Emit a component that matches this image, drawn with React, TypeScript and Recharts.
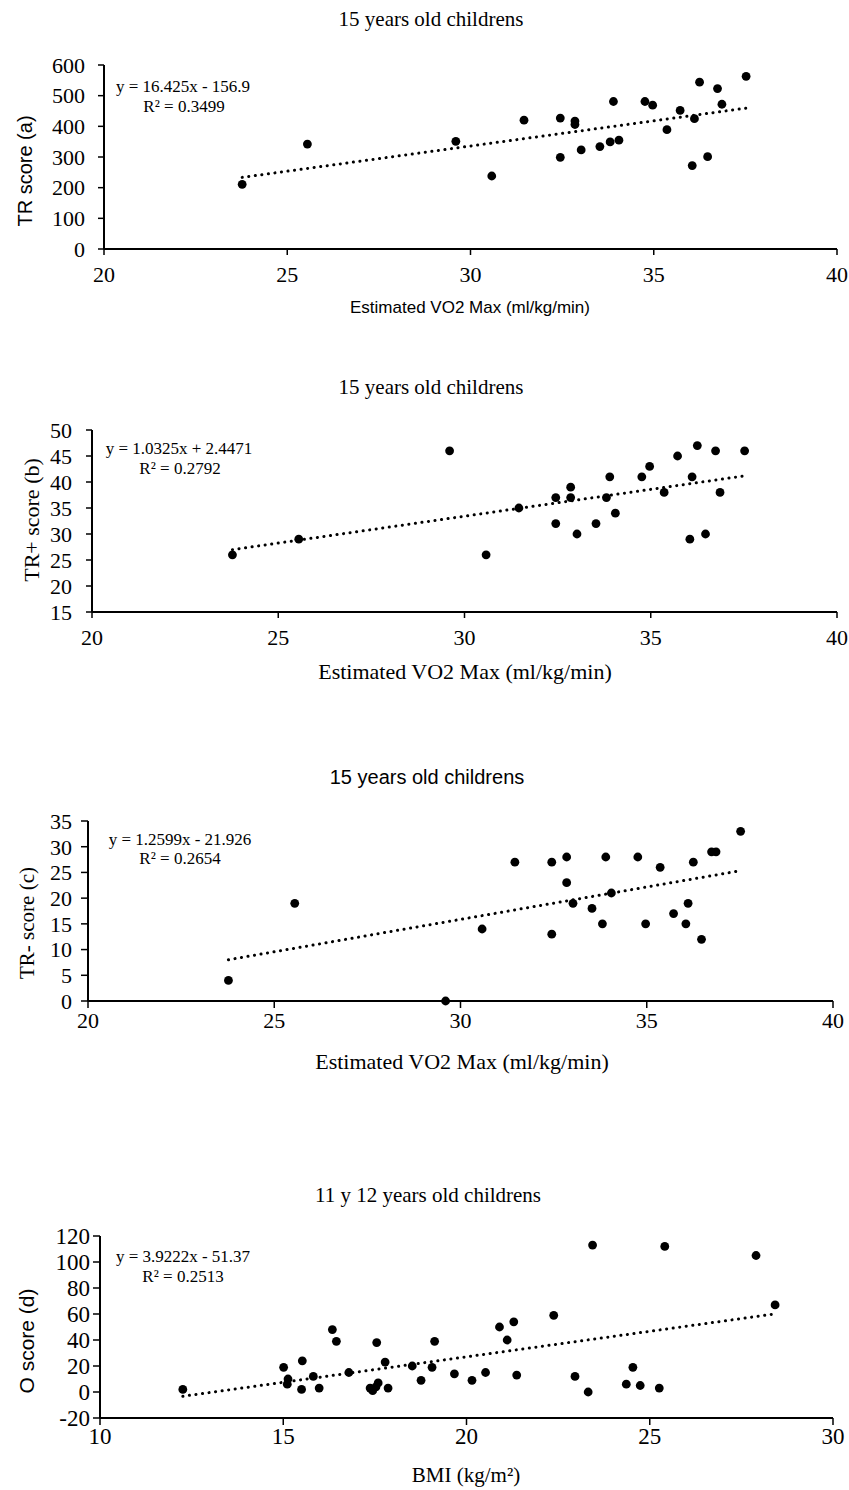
import React from "react";
import { ScatterChart, Scatter, XAxis, YAxis, ReferenceLine } from "recharts";

const serif = '"Liberation Serif", "Times New Roman", serif';
const sans = '"Liberation Sans", Arial, sans-serif';

// 15 years old: estimated VO2 max, shared by panels a, b, c
const vo2 = [
    23.77, 25.55, 29.6, 30.58, 31.46, 32.45, 32.45, 32.85, 32.85, 33.02, 33.53, 33.81, 33.9,
    34.05, 34.76, 34.97, 35.36, 35.72, 36.05, 36.11, 36.25, 36.47, 36.74, 36.86, 37.52,
];
const trScore = [
    211, 342, 351, 238, 420, 427, 299, 417, 406, 323, 334, 349, 481,
    355, 481, 469, 389, 452, 272, 425, 544, 301, 523, 472, 563,
];
const trPlus = [
    26, 29, 46, 26, 35, 37, 32, 39, 37, 30, 32, 37, 41,
    34, 41, 43, 38, 45, 29, 41, 47, 30, 46, 38, 46,
];
const trMinus = [
    4, 19, 0, 14, 27, 27, 13, 28, 23, 19, 18, 15, 28,
    21, 28, 15, 26, 17, 15, 19, 27, 12, 29, 29, 33,
];

// 11 y 12 years old: BMI vs O score
const bmi = [
    12.26, 15.01, 15.13, 15.11, 15.52, 15.5, 15.82, 15.98, 16.34, 16.45, 16.79, 17.37, 17.44,
    17.55, 17.59, 17.53, 17.78, 17.86, 18.52, 18.76, 19.06, 19.13, 19.67, 20.15, 20.52, 20.9,
    21.11, 21.29, 21.37, 22.38, 22.96, 23.32, 23.44, 24.36, 24.54, 24.74, 25.26, 25.41, 27.9, 28.42,
];
const oScore = [
    2, 19, 10, 6, 24, 2, 12, 3, 48, 39, 15, 3, 1,
    38, 7, 4, 23, 3, 20, 9, 19, 39, 14, 9, 15, 50,
    40, 54, 13, 59, 12, 0, 113, 6, 19, 5, 3, 112, 105, 67,
];

const vo2Ticks = [20, 25, 30, 35, 40];
const bmiTicks = [10, 15, 20, 25, 30];
const trTicks = [0, 100, 200, 300, 400, 500, 600];
const trPlusTicks = [15, 20, 25, 30, 35, 40, 45, 50];
const trMinusTicks = [0, 5, 10, 15, 20, 25, 30, 35];
const oTicks = [-20, 0, 20, 40, 60, 80, 100, 120];

// trend line coefficients as printed on the chart
const fitA = { slope: 16.425, intercept: -156.9, text: "y = 16.425x - 156.9", r2: "R² = 0.3499" };
const fitB = { slope: 1.0325, intercept: 2.4471, text: "y = 1.0325x + 2.4471", r2: "R² = 0.2792" };
const fitC = { slope: 1.2599, intercept: -21.926, text: "y = 1.2599x - 21.926", r2: "R² = 0.2654" };
const fitD = { slope: 3.9222, intercept: -51.37, text: "y = 3.9222x - 51.37", r2: "R² = 0.2513" };

type TextSpec = { text: string; x: number; y: number; font: string; size: number; rotate?: boolean };

function Txt({ text, x, y, font, size, rotate }: TextSpec) {
    return (
        <div
            style={{
                position: "absolute",
                left: x,
                top: y,
                transform: `translate(-50%, -50%)${rotate ? " rotate(-90deg)" : ""}`,
                fontFamily: font,
                fontSize: size,
                color: "#000",
                whiteSpace: "nowrap",
                lineHeight: 1,
            }}
        >
            {text}
        </div>
    );
}

interface PanelProps {
    top: number;
    height: number;
    left: number;
    right: number;
    plotTop: number;
    plotBottom: number;
    xs: number[];
    ys: number[];
    xDomain: [number, number];
    yDomain: [number, number];
    xTicks: number[];
    yTicks: number[];
    fit: { slope: number; intercept: number };
    yTickGap: number;
    xTickGap: number;
    tickLen: number;
    tickFont?: number;
}

function Panel(p: PanelProps) {
    const data = p.xs.map((x, i) => ({ x, y: p.ys[i] }));
    const x0 = Math.min(...p.xs);
    const x1 = Math.max(...p.xs);
    const seg = [
        { x: x0, y: p.fit.slope * x0 + p.fit.intercept },
        { x: x1, y: p.fit.slope * x1 + p.fit.intercept },
    ];
    const tickStyle = { fill: "#000", fontSize: p.tickFont ?? 22, fontFamily: serif };
    return (
        <div style={{ position: "absolute", left: 0, top: p.top }}>
            <ScatterChart
                width={849}
                height={p.height}
                margin={{ top: p.plotTop, right: 849 - p.right, left: 0, bottom: p.height - p.plotBottom - 40 }}
            >
                <XAxis
                    type="number"
                    dataKey="x"
                    domain={p.xDomain}
                    ticks={p.xTicks}
                    height={40}
                    axisLine={{ stroke: "#000", strokeWidth: 2 }}
                    tickLine={{ stroke: "#000", strokeWidth: 1.5 }}
                    tickSize={p.tickLen}
                    tickMargin={p.xTickGap - p.tickLen}
                    tick={tickStyle}
                    interval={0}
                />
                <YAxis
                    type="number"
                    dataKey="y"
                    domain={p.yDomain}
                    ticks={p.yTicks}
                    width={p.left}
                    axisLine={{ stroke: "#000", strokeWidth: 2 }}
                    tickLine={{ stroke: "#000", strokeWidth: 1.5 }}
                    tickSize={p.tickLen}
                    tickMargin={p.yTickGap - p.tickLen}
                    tick={tickStyle}
                    interval={0}
                />
                <ReferenceLine
                    segment={seg}
                    stroke="#000"
                    strokeWidth={3}
                    strokeDasharray="0.1 6.5"
                    strokeLinecap="round"
                    ifOverflow="visible"
                />
                <Scatter
                    data={data}
                    fill="#000"
                    isAnimationActive={false}
                    shape={(s: any) => <circle cx={s.cx} cy={s.cy} r={4.4} fill="#000" />}
                />
            </ScatterChart>
        </div>
    );
}

export default function App() {
    return (
        <div style={{ position: "absolute", left: 0, top: 0, width: 849, height: 1490, background: "#fff", overflow: "hidden" }}>
            <Panel
                top={0} height={320} left={104} right={837} plotTop={65} plotBottom={249}
                xs={vo2} ys={trScore} xDomain={[20, 40]} yDomain={[0, 600]}
                xTicks={vo2Ticks} yTicks={trTicks} fit={fitA} yTickGap={19} xTickGap={17} tickLen={6}
            />
            <Txt text="15 years old childrens" x={431} y={19} font={serif} size={21} />
            <Txt text={fitA.text} x={183} y={86} font={serif} size={17} />
            <Txt text={fitA.r2} x={184} y={106} font={serif} size={17} />
            <Txt text="TR score (a)" x={25} y={171} font={sans} size={20} rotate />
            <Txt text="Estimated VO2 Max (ml/kg/min)" x={470} y={307} font={sans} size={17} />

            <Panel
                top={380} height={320} left={92} right={837} plotTop={50} plotBottom={232}
                xs={vo2} ys={trPlus} xDomain={[20, 40]} yDomain={[15, 50]}
                xTicks={vo2Ticks} yTicks={trPlusTicks} fit={fitB} yTickGap={20} xTickGap={17} tickLen={6}
            />
            <Txt text="15 years old childrens" x={431} y={387} font={serif} size={21} />
            <Txt text={fitB.text} x={179} y={448} font={serif} size={17} />
            <Txt text={fitB.r2} x={180} y={468} font={serif} size={17} />
            <Txt text="TR+ score (b)" x={32} y={520} font={serif} size={22} rotate />
            <Txt text="Estimated VO2 Max (ml/kg/min)" x={465} y={672} font={serif} size={22} />

            <Panel
                top={760} height={330} left={88} right={833} plotTop={61} plotBottom={241}
                xs={vo2} ys={trMinus} xDomain={[20, 40]} yDomain={[0, 35]}
                xTicks={vo2Ticks} yTicks={trMinusTicks} fit={fitC} yTickGap={16} xTickGap={11} tickLen={7}
            />
            <Txt text="15 years old childrens" x={427} y={777} font={sans} size={20} />
            <Txt text={fitC.text} x={180} y={839} font={serif} size={17} />
            <Txt text={fitC.r2} x={180} y={858} font={serif} size={17} />
            <Txt text="TR- score (c)" x={27} y={923} font={serif} size={21} rotate />
            <Txt text="Estimated VO2 Max (ml/kg/min)" x={462} y={1062} font={serif} size={22} />

            <Panel
                top={1170} height={320} left={100} right={833} plotTop={66} plotBottom={248}
                xs={bmi} ys={oScore} xDomain={[10, 30]} yDomain={[-20, 120]}
                xTicks={bmiTicks} yTicks={oTicks} fit={fitD} yTickGap={10} xTickGap={10} tickLen={7}
                tickFont={23}
            />
            <Txt text="11 y 12 years old childrens" x={428} y={1195} font={serif} size={21} />
            <Txt text={fitD.text} x={183} y={1256} font={serif} size={17} />
            <Txt text={fitD.r2} x={183} y={1276} font={serif} size={17} />
            <Txt text="O score (d)" x={26} y={1341} font={sans} size={21} rotate />
            <Txt text="BMI (kg/m²)" x={466} y={1475} font={serif} size={21} />
        </div>
    );
}
